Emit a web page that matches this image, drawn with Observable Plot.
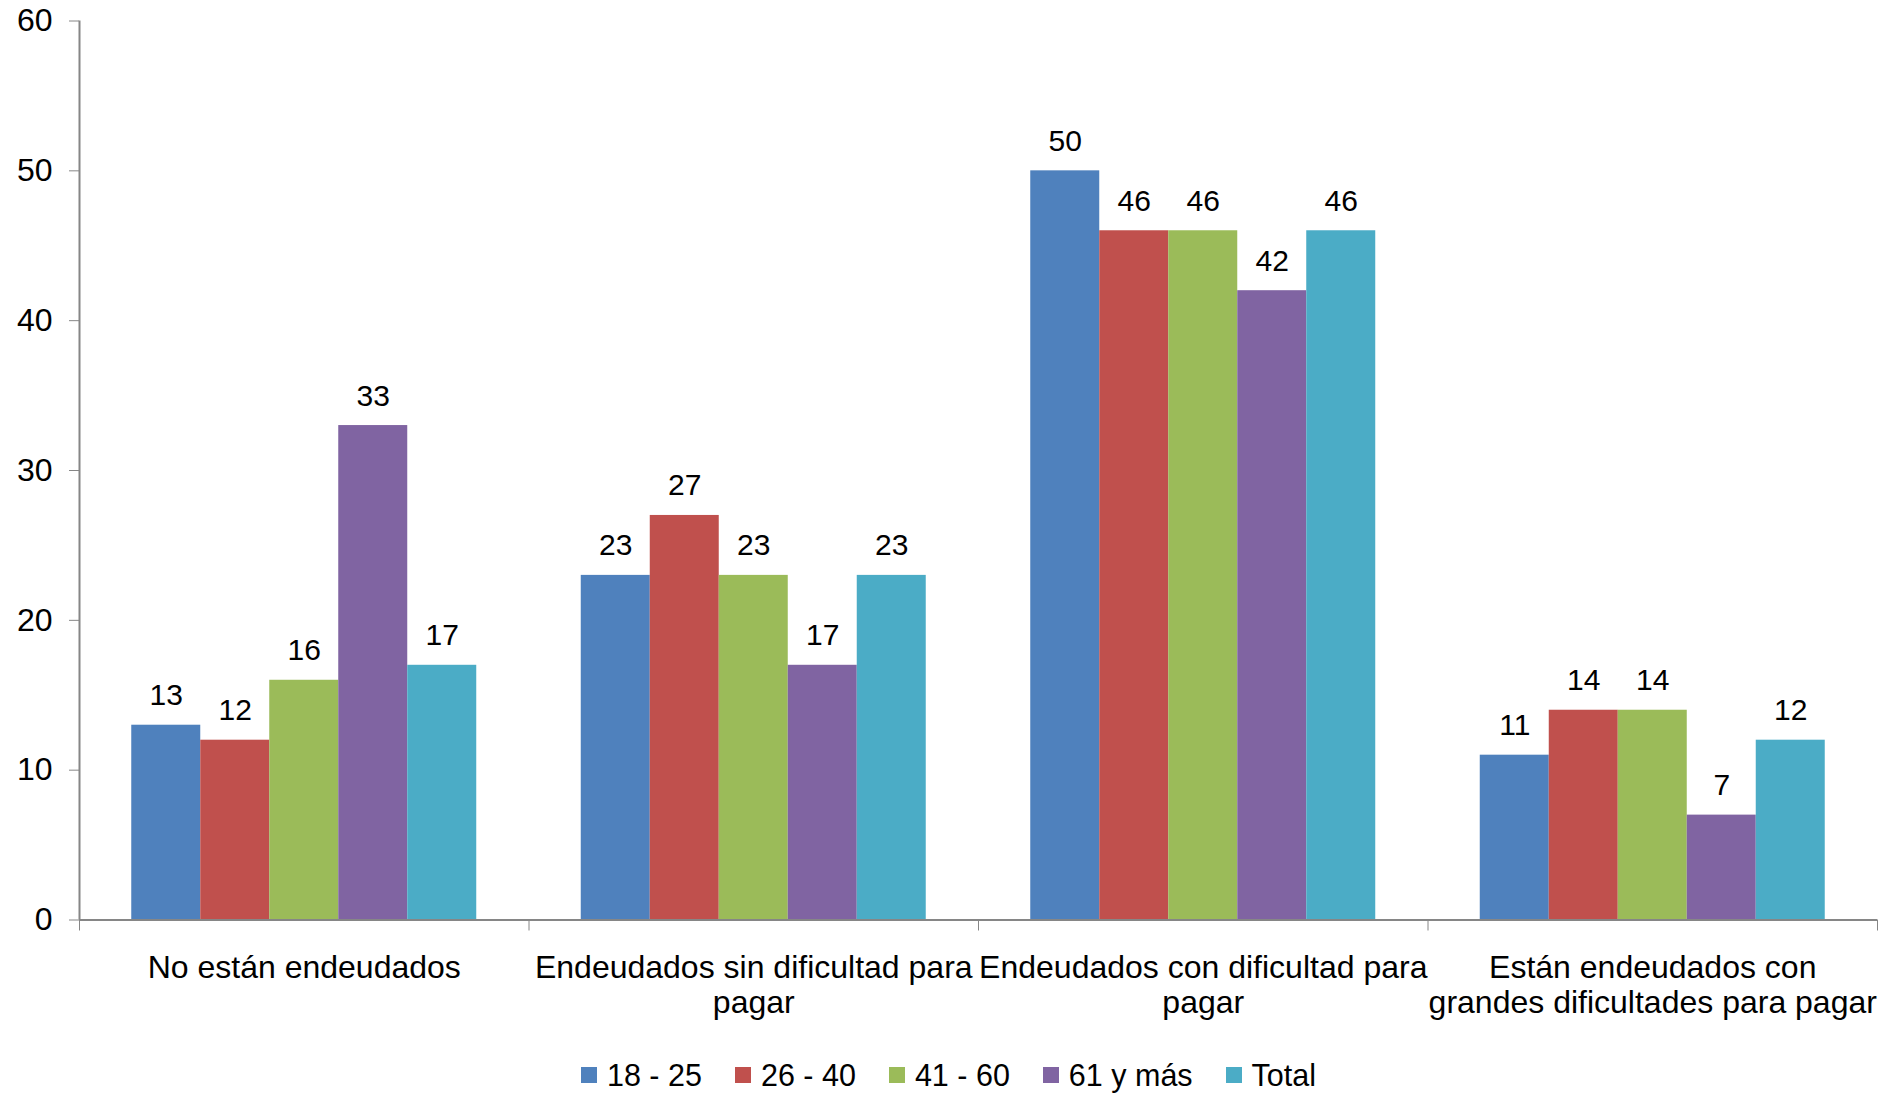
<!DOCTYPE html>
<html>
<head>
<meta charset="utf-8">
<script src="https://cdn.jsdelivr.net/npm/d3@7"></script>
<script src="https://cdn.jsdelivr.net/npm/@observablehq/plot@0.6"></script>
<style>
  html, body { margin: 0; padding: 0; background: #fff; }
  body { width: 1897px; height: 1093px; position: relative; overflow: hidden; font-family: "Liberation Sans", Arial, sans-serif; }
  #legend { position: absolute; left: 0; top: 1057px; width: 1897px; display: flex; justify-content: center; font-size: 30.5px; line-height: 36px; color: #000; }
  #legend .item { display: flex; align-items: center; margin: 0 16.5px; }
  #legend .sw { width: 16px; height: 16px; margin-right: 10px; }
</style>
</head>
<body>
<div id="chart"></div>
<div id="legend"></div>
<script>
const categories = [
  "No están endeudados",
  "Endeudados sin dificultad para\npagar",
  "Endeudados con dificultad para\npagar",
  "Están endeudados con\ngrandes dificultades para pagar"
];
const series = ["18 - 25", "26 - 40", "41 - 60", "61 y más", "Total"];
const colors = ["#4F81BD", "#C0504D", "#9BBB59", "#8064A2", "#4BACC6"];
const v1825 = [13, 23, 50, 11];
const v2640 = [12, 27, 46, 14];
const v4160 = [16, 23, 46, 14];
const v61 = [33, 17, 42, 7];
const vTotal = [17, 23, 46, 12];
const yTicks = [0, 10, 20, 30, 40, 50, 60];

const seriesValues = [v1825, v2640, v4160, v61, vTotal];
const rows = [];
categories.forEach((c, ci) => {
  series.forEach((s, si) => {
    rows.push({cat: ci, s: si, series: s, value: seriesValues[si][ci]});
  });
});

const w = 0.1535;
const off = (1 - series.length * w) / 2;
const x1 = d => d.cat + off + d.s * w;

const chart = Plot.plot({
  width: 1897,
  height: 1050,
  marginLeft: 79,
  marginRight: 20,
  marginTop: 20.5,
  marginBottom: 130.5,
  style: {fontFamily: "'Liberation Sans', Arial, sans-serif", fontSize: "30px", color: "#000", background: "#fff"},
  x: {domain: [0, categories.length]},
  y: {domain: [0, 60]},
  color: {domain: series, range: colors},
  marks: [
    Plot.rect(rows, {x1: x1, x2: d => x1(d) + w, y1: 0, y2: "value", fill: "series"}),
    Plot.text(rows, {x: d => x1(d) + w / 2, y: "value", text: d => String(d.value), lineAnchor: "bottom", dy: -20, fontSize: 30, fill: "#000"}),
    Plot.ruleX([0], {y1: 0, y2: 60, stroke: "#868686", strokeWidth: 2}),
    Plot.ruleY([0], {stroke: "#868686", strokeWidth: 2}),
    Plot.axisY({ticks: yTicks, tickSize: 10, tickPadding: 17, stroke: "#868686", fill: "#000", fontSize: 32, label: null, tickFormat: d => String(d)}),
    Plot.axisX({ticks: d3.range(categories.length + 1), tickSize: 11, stroke: "#868686", tickFormat: () => "", label: null}),
    Plot.text(categories, {x: (d, i) => i + 0.5, y: 0, text: d => d, lineAnchor: "top", dy: 33, lineHeight: 1.094, fontSize: 32, fill: "#000"})
  ]
});
document.getElementById("chart").appendChild(chart);

const legend = document.getElementById("legend");
series.forEach((s, i) => {
  const item = document.createElement("div");
  item.className = "item";
  const sw = document.createElement("span");
  sw.className = "sw";
  sw.style.background = colors[i];
  const t = document.createElement("span");
  t.textContent = s;
  item.appendChild(sw);
  item.appendChild(t);
  legend.appendChild(item);
});
</script>
</body>
</html>
